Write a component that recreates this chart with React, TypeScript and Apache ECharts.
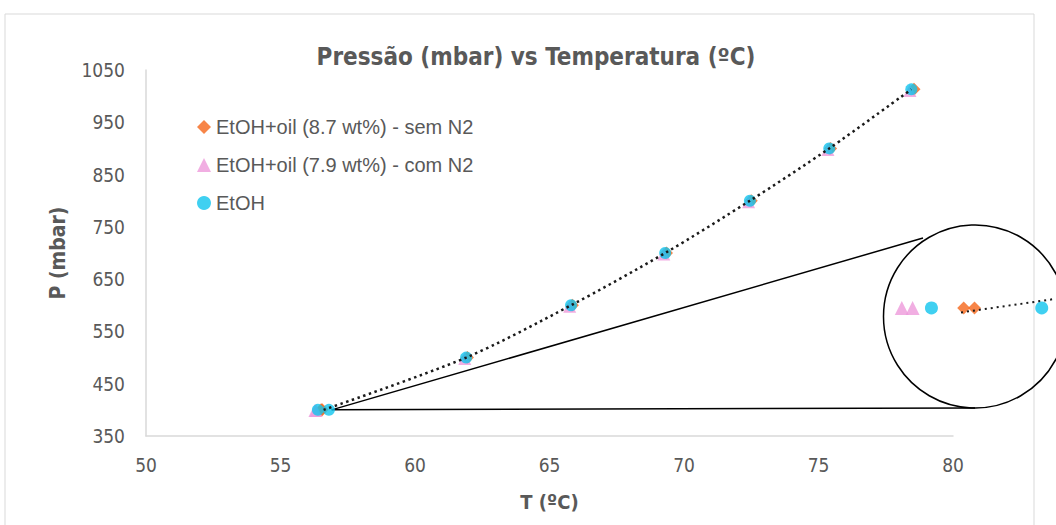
import React, { useEffect, useRef } from "react";
import * as echarts from "echarts";

// ---- data ----
const semN2T = [56.51, 56.55, 61.95, 65.85, 69.35, 72.5, 75.45, 78.55];
const semN2P = [400, 400, 500, 600, 700, 800, 900, 1013];
const comN2T = [56.28, 56.32, 61.85, 65.75, 69.25, 72.4, 75.35, 78.4];
const comN2P = [399, 399, 498, 598, 698, 798, 898, 1011];
const etohT = [56.39, 56.8, 61.9, 65.8, 69.3, 72.45, 75.4, 78.45];
const etohP = [400, 400, 500, 600, 700, 800, 900, 1013];
const trendT = [56.6, 61.9, 65.8, 69.3, 72.45, 75.4, 78.45];
const trendP = [400, 500, 600, 700, 800, 900, 1013];
// magnified view (inset)
const insetComN2P = [400, 400, 500, 600, 700, 800, 900, 1013];
const insetTrendT = [56.5, 56.853];
const insetTrendP = [399.95, 400.1];

const seriesNames = [
  "EtOH+oil (8.7 wt%) - sem N2",
  "EtOH+oil (7.9 wt%) - com N2",
  "EtOH",
];
const xTicks = { min: 50, max: 80, interval: 5 };
const yTicks = { min: 350, max: 1050, interval: 100 };

const ORANGE = "#F5661A";
const PINK = "#EE9ADB";
const CYAN = "#10C4EE";
const GRAY = "#595959";
const NARROW = "'Liberation Sans Narrow', 'DejaVu Sans Condensed', sans-serif";
const SANS = "'Liberation Sans', Arial, sans-serif";

const zip = (a: number[], b: number[]) => a.map((v, i) => [v, b[i]]);

export default function App() {
  const ref = useRef<HTMLDivElement>(null);
  useEffect(() => {
    if (!ref.current) return;
    const chart = echarts.init(ref.current, undefined, { renderer: "svg" });
    const option: any = {
      animation: false,
      backgroundColor: "#ffffff",
      title: {
        text: "Pressão (mbar) vs Temperatura (ºC)",
        left: 531,
        textAlign: "center",
        top: 40,
        textStyle: { color: GRAY, fontSize: 24, fontWeight: "bold", fontFamily: NARROW },
      },
      legend: {
        orient: "vertical",
        left: 192,
        top: 112,
        itemGap: 18,
        itemWidth: 14,
        itemHeight: 14,
        data: [
          { name: seriesNames[0], icon: "diamond" },
          { name: seriesNames[1], icon: "triangle" },
          { name: seriesNames[2], icon: "circle" },
        ],
        textStyle: { color: GRAY, fontSize: 20, fontFamily: SANS },
      },
      grid: [
        { left: 146, right: 103, top: 70, bottom: 89 },
        { left: 883, width: 173, top: 226, height: 182 },
      ],
      xAxis: [
        {
          type: "value",
          gridIndex: 0,
          min: xTicks.min,
          max: xTicks.max,
          interval: xTicks.interval,
          name: "T (ºC)",
          nameLocation: "middle",
          nameGap: 56,
          nameTextStyle: { color: GRAY, fontSize: 20, fontWeight: "bold", fontFamily: NARROW },
          axisLine: { show: true, lineStyle: { color: "#d9d9d9", width: 1.5 } },
          axisTick: { show: false },
          splitLine: { show: false },
          axisLabel: { color: GRAY, fontSize: 19, fontFamily: NARROW, margin: 19 },
        },
        { type: "value", gridIndex: 1, min: 56.21, max: 56.853, show: false, splitLine: { show: false } },
      ],
      yAxis: [
        {
          type: "value",
          gridIndex: 0,
          min: yTicks.min,
          max: yTicks.max,
          interval: yTicks.interval,
          name: "P (mbar)",
          nameLocation: "middle",
          nameGap: 78,
          nameTextStyle: { color: GRAY, fontSize: 21, fontWeight: "bold", fontFamily: NARROW },
          axisLine: { show: true, lineStyle: { color: "#d9d9d9", width: 1.5 } },
          axisTick: { show: false },
          splitLine: { show: false },
          axisLabel: {
            color: GRAY, fontSize: 19, fontFamily: NARROW, margin: 21,
            formatter: (v: number) => String(v),
          },
        },
        { type: "value", gridIndex: 1, min: 398.9, max: 400.9, show: false, splitLine: { show: false } },
      ],
      series: [
        {
          name: seriesNames[0], type: "scatter", symbol: "diamond", symbolSize: 13,
          itemStyle: { color: ORANGE }, data: zip(semN2T, semN2P), z: 2,
        },
        {
          name: seriesNames[1], type: "scatter", symbol: "triangle", symbolSize: 13,
          itemStyle: { color: PINK }, data: zip(comN2T, comN2P), z: 3,
        },
        {
          name: seriesNames[2], type: "scatter", symbol: "circle", symbolSize: 12,
          itemStyle: { color: CYAN }, data: zip(etohT, etohP), z: 4,
        },
        {
          name: "trend", type: "line", smooth: 0.3, showSymbol: false, symbol: "none",
          lineStyle: { color: "#1a1a1a", width: 2.5, type: [2.5, 3.5], cap: "butt" },
          data: zip(trendT, trendP), z: 5, silent: true,
        },
        // inset (magnified)
        {
          name: seriesNames[0], type: "scatter", symbol: "diamond", symbolSize: 13,
          xAxisIndex: 1, yAxisIndex: 1, clip: true,
          itemStyle: { color: ORANGE }, data: zip(semN2T, semN2P), z: 2,
        },
        {
          name: seriesNames[1], type: "scatter", symbol: "triangle", symbolSize: 14,
          xAxisIndex: 1, yAxisIndex: 1, clip: true,
          itemStyle: { color: PINK }, data: zip(comN2T, insetComN2P), z: 3,
        },
        {
          name: seriesNames[2], type: "scatter", symbol: "circle", symbolSize: 13,
          xAxisIndex: 1, yAxisIndex: 1, clip: true,
          itemStyle: { color: CYAN }, data: zip(etohT, etohP), z: 4,
        },
        {
          name: "trend-inset", type: "line", showSymbol: false, symbol: "none",
          xAxisIndex: 1, yAxisIndex: 1, clip: true,
          lineStyle: { color: "#1a1a1a", width: 2, type: [2, 4], cap: "butt" },
          data: zip(insetTrendT, insetTrendP), z: 5, silent: true,
        },
      ],
    };
    chart.setOption(option);
    const start = chart.convertToPixel({ gridIndex: 0 } as any, [56.9, 400]) as number[];
    const cx = 975, cy = 316.5, r = 91.5;
    chart.setOption({
      graphic: [
        {
          type: "rect", shape: { x: 5, y: 14, width: 1029, height: 530 },
          style: { fill: "none", stroke: "#d9d9d9", lineWidth: 1 }, z: -1, silent: true,
        },
        {
          type: "line", shape: { x1: start[0], y1: start[1], x2: cx, y2: cy + r },
          style: { stroke: "#000", lineWidth: 1.5 }, silent: true,
        },
        {
          type: "line", shape: { x1: start[0], y1: start[1], x2: 923, y2: 238 },
          style: { stroke: "#000", lineWidth: 1.5 }, silent: true,
        },
        {
          type: "circle", shape: { cx, cy, r },
          style: { fill: "none", stroke: "#000", lineWidth: 1.5 }, silent: true,
        },
      ],
    });
    return () => chart.dispose();
  }, []);
  return (
    <div
      ref={ref}
      style={{ position: "fixed", left: 0, top: 0, width: 1056, height: 525 }}
    />
  );
}
